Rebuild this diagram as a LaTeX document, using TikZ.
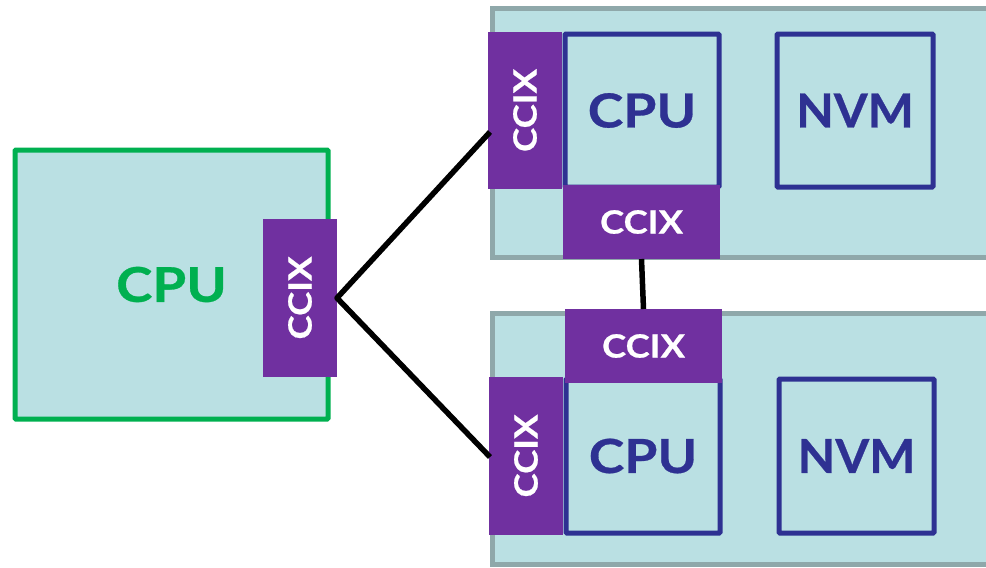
\documentclass[tikz,border=0pt]{standalone}
\usepackage{fontspec}
\usepackage{graphicx}
\setmainfont{Lato}[FakeStretch=1.14, BoldFeatures={FakeBold=0.6}]
\usetikzlibrary{calc}
\definecolor{chipfill}{HTML}{BAE0E3}
\definecolor{boardgray}{HTML}{8FA8AA}
\definecolor{hostgreen}{HTML}{00B050}
\definecolor{ccixpurple}{HTML}{7030A0}
\definecolor{devnavy}{HTML}{2E3192}
\newcommand\nvmlabel{\scalebox{0.91}[1]{NVM}}
\begin{document}
\begin{tikzpicture}[x=1pt,y=-1pt,
  every node/.style={inner sep=0pt, outer sep=0pt, anchor=north west},
  board/.style={draw=boardgray, fill=chipfill, line width=5pt},
  hostcpu/.style={draw=hostgreen, fill=chipfill, line width=5pt, rounded corners=1pt,
    text=hostgreen, font=\fontsize{48}{50}\selectfont\bfseries},
  devbox/.style={draw=devnavy, fill=chipfill, line width=5pt, rounded corners=1pt,
    text=devnavy, font=\fontsize{47}{50}\selectfont\bfseries},
  ccix/.style={fill=ccixpurple, text=white, font=\fontsize{32}{34}\selectfont\bfseries},
  link/.style={draw=black, line width=5.5pt}]
\useasboundingbox (0,0) rectangle (986,568);
\clip (0,0) rectangle (986,568);

% boards with the attached devices
\node[board, minimum width=520pt, minimum height=249pt] (boardA) at (492,8) {};
\node[board, minimum width=520pt, minimum height=251pt] (boardB) at (492,313) {};

% host processor
\node[hostcpu, minimum width=313pt, minimum height=269pt] (host) at (15,150) {CPU};
\node[ccix, minimum width=74pt, minimum height=158pt] (hostccix) at (263,219) {\rotatebox{90}{CCIX}};

% upper board
\node[devbox, minimum width=154pt, minimum height=153pt] (cpuA) at (565,34) {CPU};
\node[devbox, minimum width=156pt, minimum height=153pt] (nvmA) at (777,34) {\nvmlabel};
\node[ccix, minimum width=74pt, minimum height=157pt] (ccixAl) at (488,32) {\rotatebox{90}{CCIX}};
\node[ccix, minimum width=157pt, minimum height=74pt] (ccixAb) at (563,185) {CCIX};

% lower board
\node[devbox, minimum width=154pt, minimum height=154pt] (cpuB) at (566,379) {CPU};
\node[devbox, minimum width=155pt, minimum height=154pt] (nvmB) at (779,379) {\nvmlabel};
\node[ccix, minimum width=74pt, minimum height=158pt] (ccixBl) at (489,377) {\rotatebox{90}{CCIX}};
\node[ccix, minimum width=157pt, minimum height=74pt] (ccixBt) at (565,309) {CCIX};

% CCIX links
\draw[link, line join=round] ([xshift=2pt,yshift=-21.5pt]ccixAl.west) -- (hostccix.east)
  -- ([xshift=1pt,yshift=-1pt]ccixBl.west);
\draw[link] (ccixAb.south) -- (ccixBt.north);
\end{tikzpicture}
\end{document}
